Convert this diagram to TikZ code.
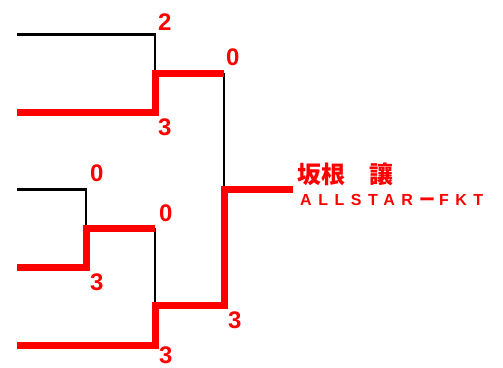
\documentclass[tikz,border=0pt]{standalone}
\usepackage{fontspec}
\setmainfont{Liberation Sans}
\newfontfamily\cjkfont{Noto Sans CJK JP}
\usepackage{tikz}
\usetikzlibrary{calc}

\begin{document}
\begin{tikzpicture}[x=1pt,y=-1pt,
  loser/.style={line width=2.6pt,black},
  winner/.style={line width=7pt,red},
  score/.style={text=red,font=\fontsize{24}{24}\selectfont\bfseries,inner sep=0pt,anchor=base west}]
\useasboundingbox (0,0) rectangle (503,367);
% Entrants
\coordinate (p1) at (17,34.5);
\coordinate (p2) at (17,112);
\coordinate (p3) at (17,189.5);
\coordinate (p4) at (17,267);
\coordinate (p5) at (17,345);
% Match points
\coordinate (a) at (155,73);
\coordinate (b) at (86,228);
\coordinate (c) at (155,305.5);
\coordinate (d) at (224,189);
\coordinate (champ) at (293,189);
% Losing lines
\draw[loser] (p1) -| (a);
\draw[loser] (p3) -| (b);
\draw[loser] (b -| c) -- (c);
\draw[loser] (a -| d) -- (d);
% Winning lines
\draw[winner] (p2) -| (a) -- (a -| d);
\draw[winner] (p4) -| (b) -- (b -| c);
\draw[winner] (p5) -| (c) -| (d) -- (champ);
% Scores
\node[score] (s1) at (158,30) {2};
\node[score] (s2) at (158,135) {3};
\node[score] (s3) at (90,181.7) {0};
\node[score] (s4) at (90,290) {3};
\node[score] (sa) at (226,65) {0};
\node[score] (sb) at (159,221.7) {0};
\node[score] (sc) at (228,328.3) {3};
\node[score] (s5) at (159,363) {3};
% Winner
\node[text=red,font=\fontsize{24}{24}\selectfont\cjkfont\bfseries,inner sep=0pt,anchor=west] (name) at (297,174) {坂根　讓};
\node[text=red,font=\fontsize{16}{16}\selectfont\bfseries\addfontfeature{LetterSpace=41},inner sep=0pt,anchor=base west] (team) at (300,205.7) {ALLSTAR\hspace{6pt}{\cjkfont\bfseries ー}\hspace{4pt}FKT};
\end{tikzpicture}
\end{document}
